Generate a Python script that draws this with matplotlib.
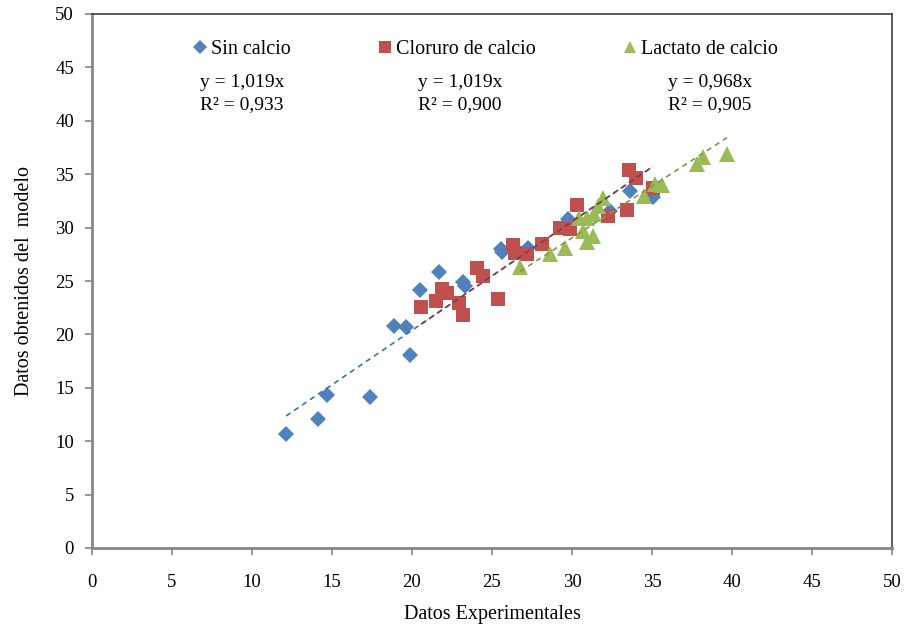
import matplotlib
matplotlib.use("Agg")
import matplotlib.pyplot as plt
import numpy as np

plt.rcParams['font.family'] = ['Liberation Serif', 'DejaVu Serif']

# Experimental vs. model values for each treatment
sin_x = [12.13, 14.13, 14.69, 17.38, 18.88, 19.63, 19.88, 20.5, 21.69, 23.19, 23.31,
         25.56, 25.63, 27.25, 29.75, 32.38, 33.63, 35.06]
sin_y = [10.67, 12.08, 14.33, 14.14, 20.79, 20.69, 18.07, 24.16, 25.84, 24.91, 24.53,
         27.99, 27.72, 28.09, 30.81, 31.55, 33.43, 32.87]

clor_x = [20.56, 21.5, 21.88, 22.19, 22.94, 23.19, 24.06, 24.44, 25.38, 26.31, 26.44,
          27.19, 28.13, 29.25, 29.88, 30.31, 32.25, 33.44, 33.56, 34.0, 35.06]
clor_y = [22.57, 23.13, 24.25, 23.88, 22.94, 21.82, 26.22, 25.47, 23.31, 28.37, 27.62,
          27.53, 28.46, 29.96, 29.87, 32.12, 31.09, 31.65, 35.39, 34.64, 33.71]

lact_x = [26.75, 28.63, 29.56, 30.44, 30.69, 30.94, 30.94, 31.31, 31.38, 31.63, 31.94,
          34.5, 35.19, 35.63, 37.81, 38.19, 39.69]
lact_y = [26.31, 27.53, 28.09, 30.9, 29.68, 30.9, 28.65, 29.21, 31.27, 32.02, 32.77,
          32.96, 34.08, 33.99, 35.96, 36.61, 36.9]

# Zero-intercept trend lines
slopes = [1.019, 1.019, 0.968]
r2 = ["0,933", "0,900", "0,905"]
names = ["Sin calcio", "Cloruro de calcio", "Lactato de calcio"]

ticks = list(range(0, 51, 5))

colors = ["#4F81BD", "#C0504D", "#9BBB59"]
line_colors = ["#3F6FAE", "#8E3B3B", "#7E9A45"]
markers = ["D", "s", "^"]
msizes = [8.6, 10.6, 11.2]

fig = plt.figure(figsize=(9.06, 6.27), dpi=100)
ax = fig.add_axes([92 / 906, 1 - 548 / 627, 800 / 906, 534 / 627])

series = [(sin_x, sin_y), (clor_x, clor_y), (lact_x, lact_y)]
handles = []
for (xs, ys), c, lc, m, ms, k, nm in zip(series, colors, line_colors, markers, msizes, slopes, names):
    h, = ax.plot(xs, ys, linestyle='none', marker=m, markersize=ms, color=c,
                 markeredgewidth=0, label=nm, zorder=3)
    handles.append(h)
    xl = np.array([min(xs), max(xs)])
    ax.plot(xl, k * xl, linestyle=(0, (3.2, 2.6)), color=lc, linewidth=1.2, zorder=4)

ax.set_xlim(0, 50)
ax.set_ylim(0, 50)
ax.set_xticks(ticks)
ax.set_yticks(ticks)
ax.tick_params(axis='both', direction='out', length=5, width=1.2, color='#868686',
               labelsize=13.5)
ax.tick_params(axis='x', pad=14)
ax.tick_params(axis='y', pad=8)

for s in ['left', 'bottom']:
    ax.spines[s].set_color('#868686')
    ax.spines[s].set_linewidth(2)
for s in ['top', 'right']:
    ax.spines[s].set_color('#404040')
    ax.spines[s].set_linewidth(1.2)

ax.set_xlabel("Datos Experimentales", fontsize=14.5, labelpad=10)
ax.set_ylabel("Datos obtenidos del  modelo", fontsize=14.5, labelpad=15)

leg = ax.legend(handles=handles, loc='upper left', bbox_to_anchor=(0.105, 0.985), ncol=3,
                frameon=False, fontsize=14.5, markerscale=0.78, handlelength=0.58,
                handletextpad=0.25, columnspacing=4.4)

eq_pos = [6.75, 20.4, 36.0]
for xe, k, r in zip(eq_pos, slopes, r2):
    ax.text(xe, 43.6, "y = " + f"{k:.3f}".replace('.', ',') + "x", fontsize=14,
            va='center', ha='left')
    ax.text(xe, 41.5, "R² = " + r, fontsize=14, va='center', ha='left')

fig.savefig("out.png", dpi=100)
